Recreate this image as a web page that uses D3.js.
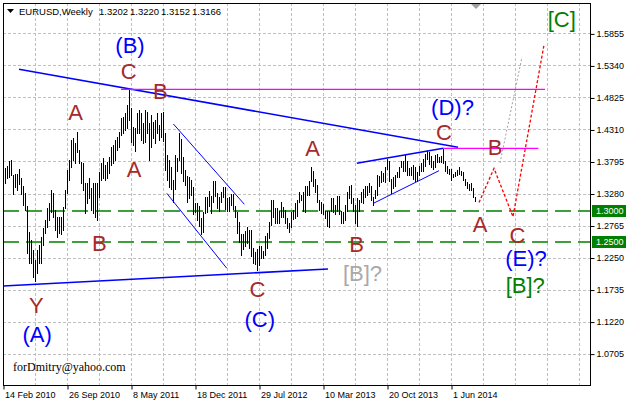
<!DOCTYPE html>
<html><head><meta charset="utf-8">
<script src="https://cdn.jsdelivr.net/npm/d3@7"></script>
<style>body{margin:0;background:#fff}svg{display:block}</style>
</head><body>
<svg id="c" width="627" height="402"></svg>
<script>
// ---- data (weekly EURUSD bars, index 0 = week of 14 Feb 2010) ----
const highs = [
1.3790,1.3684,1.3721,1.3802,1.3818,1.3576,1.3592,1.3600,1.3668,1.3523,
1.3400,1.3282,1.3078,1.2665,1.2531,1.2371,1.2210,1.2371,1.2451,1.2585,
1.2719,1.2853,1.3040,1.3121,1.3335,1.3282,1.3014,1.2906,1.2906,1.2906,
1.3067,1.3335,1.3657,1.3818,1.4139,1.4166,1.4086,1.4273,1.3978,1.3791,
1.3764,1.3442,1.3442,1.3523,1.3362,1.3442,1.3442,1.3442,1.3630,1.3764,
1.3844,1.3737,1.3791,1.3871,1.4032,1.4059,1.4139,1.4193,1.4273,1.4488,
1.4514,1.4568,1.4702,1.4950,1.4648,1.4354,1.4327,1.4568,1.4622,1.4568,
1.4407,1.4622,1.4595,1.4407,1.4541,1.4434,1.4461,1.4568,1.4380,1.4568,
1.4595,1.4250,1.3900,1.3823,1.3710,1.3500,1.3900,1.3850,1.4248,1.4150,
1.3870,1.3660,1.3560,1.3550,1.3490,1.3380,1.3120,1.3120,1.3080,1.2880,
1.2980,1.3230,1.3230,1.3320,1.3240,1.3486,1.3480,1.3290,1.3220,1.3300,
1.3385,1.3380,1.3210,1.3230,1.3270,1.3280,1.3080,1.2980,1.2820,1.2630,
1.2630,1.2670,1.2740,1.2690,1.2690,1.2400,1.2340,1.2390,1.2440,1.2440,
1.2350,1.2590,1.2640,1.2820,1.3170,1.3170,1.3050,1.3040,1.3000,1.3140,
1.3070,1.3020,1.2880,1.2800,1.2990,1.3020,1.3130,1.3170,1.3310,1.3260,
1.3300,1.3400,1.3400,1.3480,1.3711,1.3640,1.3520,1.3410,1.3180,1.3150,
1.3110,1.3000,1.3000,1.3000,1.3200,1.3200,1.3100,1.3240,1.3240,1.3000,
1.2990,1.3100,1.3300,1.3400,1.3420,1.3200,1.3100,1.3200,1.3180,1.3300,
1.3350,1.3400,1.3400,1.3450,1.3400,1.3230,1.3340,1.3570,1.3560,1.3640,
1.3610,1.3700,1.3832,1.3810,1.3520,1.3540,1.3580,1.3620,1.3710,1.3810,
1.3810,1.3893,1.3810,1.3690,1.3700,1.3740,1.3700,1.3620,1.3720,1.3770,
1.3830,1.3910,1.3966,1.3950,1.3880,1.3810,1.3900,1.3910,1.3870,1.3890,
1.3993,1.3800,1.3730,1.3670,1.3670,1.3590,1.3620,1.3660,1.3701,1.3640,
1.3620,1.3510,1.3460,1.3440,1.3450,1.3370,1.3220];
const lows = [
1.3445,1.3442,1.3523,1.3550,1.3576,1.3271,1.3378,1.3330,1.3432,1.3271,
1.3094,1.3014,1.2317,1.2156,1.2156,1.1942,1.1876,1.1995,1.2156,1.2156,
1.2451,1.2638,1.2746,1.2853,1.2987,1.2906,1.2692,1.2585,1.2638,1.2628,
1.2692,1.3040,1.3282,1.3496,1.3710,1.3818,1.3764,1.3952,1.3764,1.3442,
1.3335,1.2960,1.3121,1.3201,1.3014,1.2960,1.2906,1.2853,1.3228,1.3496,
1.3523,1.3496,1.3523,1.3603,1.3737,1.3764,1.3818,1.3978,1.4032,1.4220,
1.4246,1.4300,1.4327,1.4461,1.4112,1.4059,1.3968,1.4246,1.4246,1.4139,
1.4086,1.4112,1.4246,1.3818,1.4032,1.4166,1.4086,1.4246,1.4139,1.4193,
1.4130,1.3660,1.3495,1.3386,1.3360,1.3145,1.3360,1.3650,1.3820,1.3610,
1.3480,1.3420,1.3145,1.3210,1.3260,1.2945,1.2990,1.2858,1.2760,1.2624,
1.2660,1.2960,1.2980,1.3080,1.2970,1.3150,1.3240,1.3050,1.3000,1.3140,
1.3230,1.3030,1.3000,1.3000,1.3090,1.3030,1.2910,1.2640,1.2500,1.2290,
1.2380,1.2440,1.2490,1.2400,1.2270,1.2160,1.2140,1.2042,1.2130,1.2240,
1.2240,1.2290,1.2400,1.2560,1.2770,1.2900,1.2800,1.2800,1.2800,1.2900,
1.2900,1.2800,1.2730,1.2660,1.2740,1.2870,1.2880,1.2920,1.3150,1.3170,
1.3000,1.2990,1.3250,1.3260,1.3480,1.3400,1.3300,1.3140,1.3010,1.2970,
1.2950,1.2880,1.2750,1.2745,1.3000,1.2990,1.2950,1.3000,1.2950,1.2800,
1.2800,1.2860,1.3000,1.3200,1.3120,1.3000,1.2800,1.2755,1.3000,1.3140,
1.3130,1.3230,1.3250,1.3300,1.3170,1.3100,1.3200,1.3250,1.3400,1.3470,
1.3480,1.3460,1.3670,1.3480,1.3295,1.3370,1.3400,1.3540,1.3540,1.3700,
1.3650,1.3650,1.3570,1.3580,1.3580,1.3510,1.3480,1.3477,1.3580,1.3640,
1.3640,1.3730,1.3830,1.3750,1.3700,1.3670,1.3700,1.3780,1.3780,1.3780,
1.3770,1.3650,1.3610,1.3590,1.3503,1.3540,1.3560,1.3580,1.3590,1.3570,
1.3490,1.3420,1.3370,1.3330,1.3330,1.3216,1.3152];

const yTickValues = [1.5855,1.5340,1.4825,1.4310,1.3795,1.3280,1.2765,1.2250,1.1735,1.1220,1.0705];
const levelValues = [1.3000, 1.2500];
const xTickWeeks = [0,32,64,96,128,160,192,224];
const xTickLabels = ["14 Feb 2010","26 Sep 2010","8 May 2011","18 Dec 2011","29 Jul 2012","10 Mar 2013","20 Oct 2013","1 Jun 2014"];
const titleValues = ["1.3202","1.3220","1.3152","1.3166"];

// trend lines in [week, price]
const blueThick = [
  [[8,1.5278],[227.5,1.4023]],
  [[0,1.1792],[162.5,1.2066]],
  [[176.9,1.3766],[220.2,1.4007]]
];
const blueThin = [
  [[85.2,1.4398],[120.7,1.3106]],
  [[81.9,1.3283],[111.9,1.2077]],
  [[185.2,1.3122],[218,1.3647]]
];
const magentaLines = [
  [[59,1.4955],[271,1.4955]],
  [[220.2,1.4007],[267.7,1.4007]]
];
const redPath = [[238,1.3135],[245.5,1.3685],[255,1.2907],[270.5,1.5669]];
const grayPath = [[248.5,1.3771],[259.5,1.5476]];

// wave labels: text, week, price (baseline), kind
const waveLabels = [
  ["A",36.25,1.4462,"brown"],["(B)",63.5,1.5532,"blue"],["C",62.85,1.5114,"brown"],
  ["B",78.65,1.4800,"brown"],["A",65.5,1.3550,"brown"],["B",48.15,1.2360,"brown"],
  ["Y",16.65,1.1353,"brown"],["(A)",17.1,1.0896,"blue"],["C",127.25,1.1610,"brown"],
  ["(C)",128.35,1.1137,"blue"],["[B]?",179.75,1.1877,"gray"],["A",154.85,1.3883,"brown"],
  ["B",176.85,1.2339,"brown"],["(D)?",224.75,1.4545,"blue"],["C",220.5,1.4140,"brown"],
  ["B",246,1.3899,"brown"],["A",238.5,1.2666,"brown"],["C",257.25,1.2489,"brown"],
  ["(E)?",261.5,1.2114,"blue"],["[B]?",261.15,1.1684,"green"],["[C]",279.35,1.5963,"green"]
];

// ---- drawing ----
const colors = {brown:"#a52a2a", blue:"#0000ff", green:"#008000", gray:"#a9a9a9"};
const L=3,T=3,R=590,B=386;
const svg = d3.select("#c");
svg.append("rect").attr("width",627).attr("height",402).attr("fill","#fff");
const x = d3.scaleLinear().domain([0,293.5]).range([L,R]);
const y = d3.scaleLinear().domain([1.0184,1.6344]).range([B,T]);
const cx = v => Math.round(v)+0.5;

svg.append("clipPath").attr("id","pc").append("rect")
  .attr("x",L).attr("y",T).attr("width",R-L).attr("height",B-T);
const g = svg.append("g").attr("clip-path","url(#pc)");

// grid
const vWeeks = d3.range(16,294,16);
g.selectAll(".vg").data(vWeeks).join("line")
  .attr("x1",d=>cx(x(d))).attr("x2",d=>cx(x(d))).attr("y1",T).attr("y2",B)
  .attr("stroke","#c0c0c0").attr("stroke-dasharray","3,2");
g.selectAll(".hg").data(yTickValues).join("line")
  .attr("x1",L).attr("x2",R).attr("y1",d=>cx(y(d))).attr("y2",d=>cx(y(d)))
  .attr("stroke","#c0c0c0").attr("stroke-dasharray","3,2");

// level lines
g.selectAll(".lv").data(levelValues).join("line")
  .attr("x1",L).attr("x2",R).attr("y1",d=>cx(y(d))-0.5).attr("y2",d=>cx(y(d))-0.5)
  .attr("stroke","#008000").attr("stroke-width",1.6).attr("stroke-dasharray","16,7");

// bars
g.selectAll(".bar").data(highs).join("line")
  .attr("x1",(d,i)=>x(i)+0.5).attr("x2",(d,i)=>x(i)+0.5)
  .attr("y1",d=>Math.round(y(d))).attr("y2",(d,i)=>Math.round(y(lows[i]))+1)
  .attr("stroke","#000").attr("stroke-width",1);

const line = d3.line().x(d=>x(d[0])).y(d=>y(d[1]));
g.selectAll(".bt").data(blueThick).join("path").attr("d",line)
  .attr("fill","none").attr("stroke","#0000ff").attr("stroke-width",1.6);
g.selectAll(".bn").data(blueThin).join("path").attr("d",line)
  .attr("fill","none").attr("stroke","#0000ff").attr("stroke-width",1);
g.selectAll(".mg").data(magentaLines).join("path").attr("d",line)
  .attr("fill","none").attr("stroke","#ff00ff").attr("stroke-width",1.3);
g.append("path").attr("d",line(grayPath)).attr("fill","none")
  .attr("stroke","#a0a0a0").attr("stroke-width",1).attr("stroke-dasharray","2,2");
g.append("path").attr("d",line(redPath)).attr("fill","none")
  .attr("stroke","#ff0000").attr("stroke-width",1.3).attr("stroke-dasharray","3,2");

// wave labels
g.selectAll(".wl").data(waveLabels).join("text")
  .attr("x",d=>x(d[1])).attr("y",d=>y(d[2]))
  .attr("text-anchor","middle").attr("font-family","Liberation Sans, Arial, sans-serif")
  .attr("font-size",22).attr("fill",d=>colors[d[3]]).text(d=>d[0]);

// email
svg.append("text").attr("x",13).attr("y",371).attr("font-family","Liberation Serif, Times New Roman, serif")
  .attr("font-size",12).attr("fill","#000").text("forDmitry@yahoo.com");

// shift marker
svg.append("path").attr("d",`M${x(236.5)-5},${T+1}L${x(236.5)+5},${T+1}L${x(236.5)},${T+6}Z`).attr("fill","#a0a0a0");

// border
svg.append("rect").attr("x",L+0.5).attr("y",T+0.5).attr("width",R-L).attr("height",B-T-1)
  .attr("fill","none").attr("stroke","#000");

// axes
const font = "Liberation Sans, Arial, sans-serif";
const ya = svg.append("g").attr("transform",`translate(${R+0.5},0.5)`)
  .call(d3.axisRight(y).tickValues(yTickValues).tickSize(4).tickPadding(2).tickFormat(d3.format(".4f")));
ya.select(".domain").remove();
ya.selectAll("text").attr("font-family",font).attr("font-size",9).attr("fill","#000");
ya.selectAll("line").attr("stroke","#000");

const xa = svg.append("g").attr("transform",`translate(0.5,${B-0.5})`)
  .call(d3.axisBottom(x).tickValues(xTickWeeks).tickSize(4).tickPadding(2).tickFormat((d,i)=>xTickLabels[i]));
xa.select(".domain").remove();
xa.selectAll("text").attr("font-family",font).attr("font-size",9).attr("fill","#000")
  .attr("text-anchor","start").attr("dx",1);
xa.selectAll("line").attr("stroke","#000");

// level boxes
const lb = svg.selectAll(".lb").data(levelValues).join("g")
  .attr("transform",d=>`translate(${R+2},${Math.round(y(d))})`);
lb.append("rect").attr("x",0).attr("y",-6).attr("width",34).attr("height",12).attr("fill","#008000");
lb.append("text").attr("x",4).attr("y",3.3).attr("font-family",font).attr("font-size",9)
  .attr("fill","#fff").text(d=>d3.format(".4f")(d));

// title
svg.append("path").attr("d","M7,9L14,9L10.5,13Z").attr("fill","#000");
svg.append("text").attr("x",19).attr("y",15).attr("font-family",font).attr("font-size",9.5)
  .attr("fill","#000").text("EURUSD,Weekly");
const tX = [99,130,161,192];
svg.selectAll(".tv").data(titleValues).join("text")
  .attr("x",(d,i)=>tX[i]).attr("y",15).attr("font-family",font).attr("font-size",9.5)
  .attr("fill","#000").text(d=>d);
</script>
</body></html>
